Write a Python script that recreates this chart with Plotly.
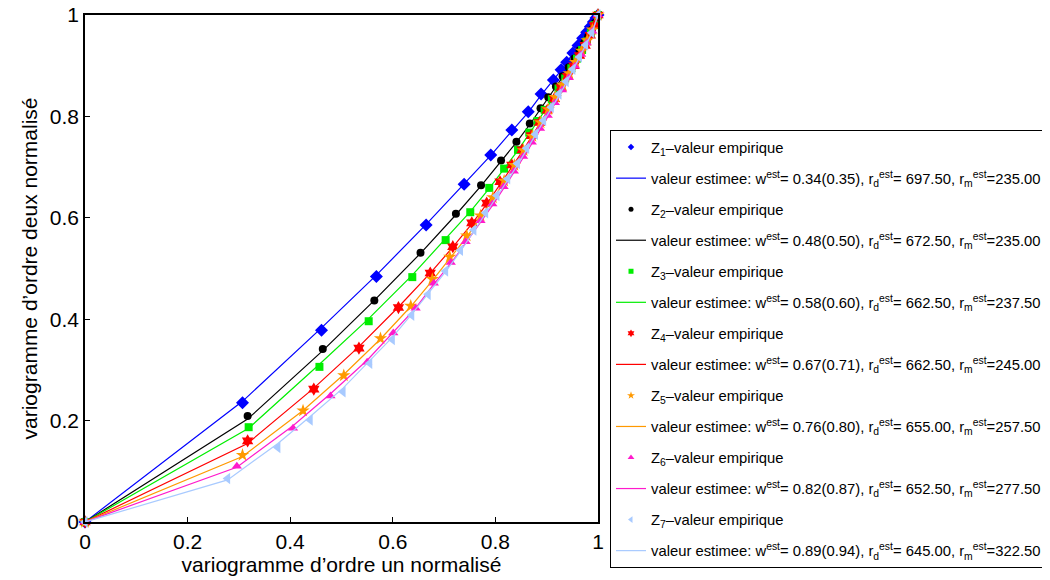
import plotly.graph_objects as go

# ---- data ----
w_est = ["0.34(0.35)", "0.48(0.50)", "0.58(0.60)", "0.67(0.71)", "0.76(0.80)", "0.82(0.87)", "0.89(0.94)"]
rd_est = ["697.50", "672.50", "662.50", "662.50", "655.00", "652.50", "645.00"]
rm_est = ["235.00", "235.00", "237.50", "245.00", "257.50", "277.50", "322.50"]

z1_x = [0, 0.307, 0.461, 0.568, 0.665, 0.739, 0.791, 0.832, 0.864, 0.889, 0.913, 0.928, 0.939, 0.951, 0.961, 0.970, 0.978, 0.985, 0.991, 0.996, 1.0]
z1_y = [0, 0.235, 0.378, 0.484, 0.586, 0.666, 0.724, 0.773, 0.809, 0.844, 0.872, 0.892, 0.907, 0.925, 0.940, 0.954, 0.966, 0.977, 0.986, 0.994, 1.0]
z1_fit = [0, 0.238, 0.383, 0.487, 0.587, 0.666, 0.723, 0.771, 0.808, 0.842, 0.871, 0.891, 0.906, 0.924, 0.939, 0.953, 0.965, 0.976, 0.985, 0.993, 1.0]

z2_x = [0, 0.317, 0.4635, 0.564, 0.654, 0.723, 0.772, 0.811, 0.841, 0.867, 0.888, 0.903, 0.918, 0.931, 0.943, 0.954, 0.964, 0.973, 0.981, 0.988, 0.994, 1.0]
z2_y = [0, 0.209, 0.341, 0.437, 0.531, 0.608, 0.664, 0.713, 0.750, 0.786, 0.816, 0.838, 0.859, 0.879, 0.897, 0.914, 0.930, 0.945, 0.958, 0.971, 0.984, 1.0]
z2_fit = [0, 0.203, 0.338, 0.437, 0.530, 0.606, 0.663, 0.711, 0.749, 0.784, 0.814, 0.836, 0.857, 0.877, 0.895, 0.912, 0.928, 0.943, 0.957, 0.970, 0.983, 1.0]

z3_x = [0, 0.319, 0.457, 0.553, 0.638, 0.703, 0.751, 0.788, 0.817, 0.844, 0.866, 0.882, 0.896, 0.910, 0.923, 0.936, 0.948, 0.959, 0.969, 0.978, 0.986, 0.993, 1.0]
z3_y = [0, 0.187, 0.306, 0.396, 0.483, 0.556, 0.611, 0.659, 0.697, 0.734, 0.768, 0.791, 0.813, 0.834, 0.855, 0.875, 0.895, 0.914, 0.931, 0.948, 0.964, 0.980, 1.0]
z3_fit = [0, 0.185, 0.311, 0.401, 0.487, 0.558, 0.612, 0.658, 0.696, 0.733, 0.766, 0.789, 0.811, 0.832, 0.853, 0.873, 0.893, 0.912, 0.929, 0.946, 0.963, 0.979, 1.0]

z4_x = [0, 0.317, 0.446, 0.534, 0.611, 0.673, 0.717, 0.754, 0.783, 0.809, 0.832, 0.852, 0.870, 0.886, 0.901, 0.915, 0.928, 0.941, 0.953, 0.964, 0.975, 0.985, 0.993, 1.0]
z4_y = [0, 0.160, 0.262, 0.343, 0.423, 0.491, 0.543, 0.590, 0.629, 0.671, 0.704, 0.734, 0.762, 0.788, 0.812, 0.835, 0.857, 0.879, 0.900, 0.920, 0.940, 0.960, 0.979, 1.0]
z4_fit = [0, 0.155, 0.264, 0.346, 0.424, 0.491, 0.542, 0.588, 0.627, 0.667, 0.700, 0.730, 0.758, 0.785, 0.809, 0.833, 0.855, 0.877, 0.898, 0.918, 0.938, 0.958, 0.978, 1.0]

z5_x = [0, 0.307, 0.425, 0.5045, 0.576, 0.635, 0.677, 0.711, 0.744, 0.771, 0.795, 0.817, 0.837, 0.855, 0.872, 0.888, 0.903, 0.917, 0.931, 0.944, 0.956, 0.968, 0.979, 0.989, 1.0]
z5_y = [0, 0.132, 0.2195, 0.289, 0.362, 0.426, 0.479, 0.523, 0.565, 0.604, 0.640, 0.673, 0.704, 0.733, 0.761, 0.788, 0.814, 0.838, 0.862, 0.885, 0.907, 0.929, 0.950, 0.971, 1.0]
z5_fit = [0, 0.129, 0.220, 0.291, 0.361, 0.425, 0.476, 0.520, 0.562, 0.601, 0.637, 0.670, 0.701, 0.730, 0.758, 0.785, 0.811, 0.836, 0.860, 0.883, 0.905, 0.927, 0.949, 0.970, 1.0]

z6_x = [0, 0.296, 0.4055, 0.4785, 0.550, 0.601, 0.6445, 0.680, 0.713, 0.742, 0.771, 0.794, 0.816, 0.836, 0.854, 0.871, 0.887, 0.902, 0.916, 0.930, 0.943, 0.955, 0.967, 0.978, 0.989, 1.0]
z6_y = [0, 0.110, 0.185, 0.2485, 0.315, 0.373, 0.4215, 0.471, 0.512, 0.553, 0.594, 0.627, 0.661, 0.692, 0.721, 0.749, 0.776, 0.802, 0.827, 0.852, 0.876, 0.899, 0.922, 0.945, 0.968, 1.0]
z6_fit = [0, 0.108, 0.190, 0.253, 0.319, 0.375, 0.422, 0.469, 0.510, 0.550, 0.591, 0.624, 0.658, 0.689, 0.718, 0.746, 0.773, 0.799, 0.825, 0.850, 0.874, 0.897, 0.920, 0.943, 0.967, 1.0]

z7_x = [0, 0.278, 0.376, 0.439, 0.503, 0.555, 0.599, 0.637, 0.669, 0.703, 0.732, 0.758, 0.781, 0.803, 0.824, 0.843, 0.861, 0.878, 0.894, 0.909, 0.924, 0.938, 0.951, 0.964, 0.976, 0.988, 1.0]
z7_y = [0, 0.086, 0.147, 0.201, 0.257, 0.313, 0.360, 0.408, 0.449, 0.495, 0.536, 0.576, 0.610, 0.644, 0.677, 0.707, 0.737, 0.765, 0.792, 0.818, 0.844, 0.869, 0.893, 0.917, 0.941, 0.965, 1.0]
z7_fit = [0, 0.083, 0.155, 0.208, 0.264, 0.318, 0.364, 0.410, 0.450, 0.494, 0.534, 0.573, 0.607, 0.641, 0.674, 0.704, 0.734, 0.762, 0.789, 0.815, 0.841, 0.866, 0.891, 0.915, 0.939, 0.964, 1.0]

xs = [z1_x, z2_x, z3_x, z4_x, z5_x, z6_x, z7_x]
ys = [z1_y, z2_y, z3_y, z4_y, z5_y, z6_y, z7_y]
fits = [z1_fit, z2_fit, z3_fit, z4_fit, z5_fit, z6_fit, z7_fit]

colors = ["#0000ff", "#000000", "#00ee00", "#ff0000", "#ff9900", "#ff1acc", "#a8caff"]
symbols = ["diamond", "circle", "square", "hexagram", "star", "triangle-up", "triangle-left"]
sizes = [10, 8, 8, 10, 10, 9, 10]
legend_sizes = [5, 5, 5, 6, 6, 6, 6]

tick_vals = [0, 0.2, 0.4, 0.6, 0.8, 1]
tick_text = ["0", "0.2", "0.4", "0.6", "0.8", "1"]

fig = go.Figure()
# data traces (no legend)
for i in range(7):
    fig.add_trace(go.Scatter(
        x=xs[i], y=fits[i], mode="lines",
        line=dict(color=colors[i], width=1.2),
        showlegend=False, cliponaxis=False,
    ))
    fig.add_trace(go.Scatter(
        x=xs[i], y=ys[i], mode="markers",
        marker=dict(symbol=symbols[i], color=colors[i], size=sizes[i], line=dict(width=0)),
        showlegend=False, cliponaxis=False,
    ))
# legend entries
for i in range(7):
    k = i + 1
    fig.add_trace(go.Scatter(
        x=[None], y=[None], mode="markers",
        marker=dict(symbol=symbols[i], color=colors[i], size=legend_sizes[i], line=dict(width=0)),
        name=f"Z<sub>{k}</sub>–valeur empirique",
        legendgroup=f"m{k}",
    ))
    fig.add_trace(go.Scatter(
        x=[None], y=[None], mode="lines",
        line=dict(color=colors[i], width=1.2),
        name=(f"valeur estimee: w<sup>est</sup>= {w_est[i]}, r<sub>d</sub><sup>est</sup>= {rd_est[i]}, "
              f"r<sub>m</sub><sup>est</sup>={rm_est[i]}"),
        legendgroup=f"l{k}",
    ))

axis_common = dict(
    range=[0, 1], tickvals=tick_vals, ticktext=tick_text,
    showline=True, linecolor="black", linewidth=1.5, mirror=True,
    ticks="inside", ticklen=5, tickcolor="black", tickwidth=1,
    showgrid=False, zeroline=False, automargin=False, ticklabeloverflow="allow",
    tickfont=dict(family="Liberation Sans, Arial", size=21, color="black"),
)

fig.update_layout(
    width=1050, height=580,
    paper_bgcolor="white", plot_bgcolor="white",
    margin=dict(l=77, r=460, t=7, b=66, autoexpand=False),
    font=dict(family="Liberation Sans, Arial", color="black"),
    xaxis=dict(**axis_common, title=dict(text="variogramme d’ordre un normalisé",
                                         font=dict(size=21), standoff=2)),
    yaxis=dict(**axis_common, title=dict(text="variogramme d’ordre deux normalisé",
                                         font=dict(size=21), standoff=6)),
    legend=dict(
        x=1.0234, y=0.7732, xanchor="left", yanchor="top",
        bordercolor="black", borderwidth=1, bgcolor="white",
        font=dict(family="Liberation Sans Narrow, Liberation Sans, Arial", size=14.8, color="black"),
        tracegroupgap=8.8, itemsizing="trace", traceorder="grouped",
    ),
    showlegend=True,
)

fig.write_html("out.html")
